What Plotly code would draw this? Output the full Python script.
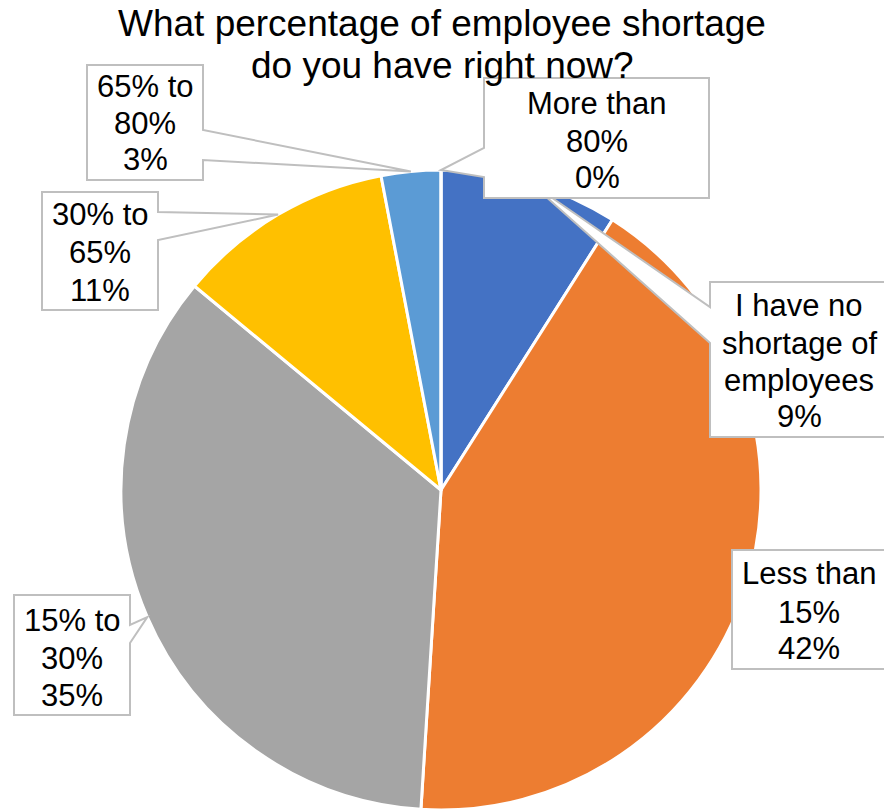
import math
import plotly.graph_objects as go

# Survey answers, in the order the slices run clockwise from 12 o'clock
categories = [
    "I have no shortage of employees",
    "Less than 15%",
    "15% to 30%",
    "30% to 65%",
    "65% to 80%",
    "More than 80%",
]
shares = [9, 42, 35, 11, 3, 0]
label_lines = [
    ["I have no", "shortage of", "employees"],
    ["Less than", "15%"],
    ["15% to", "30%"],
    ["30% to", "65%"],
    ["65% to", "80%"],
    ["More than", "80%"],
]
colors = ["#4472C4", "#ED7D31", "#A5A5A5", "#FFC000", "#5B9BD5", "#70AD47"]
title_lines = ["What percentage of employee shortage", "do you have right now?"]

W, H = 884, 812
CX, CY, R = 441, 490, 320  # pie centre and radius in pixels
FONT = "Arial, Liberation Sans, sans-serif"


def px(x):
    return x / W


def py(y):
    return 1 - y / H


# Callout boxes: (x0, y0, x1, y1), side the pointer leaves from, pointer base
callouts = [
    dict(box=(710, 282, 888, 437), side="left", base=(307, 343), cx=799, rows=(305, 343, 380, 417)),
    dict(box=(732, 550, 886, 669), side=None, base=None, cx=809, rows=(573, 612, 648)),
    dict(box=(14, 595, 130, 715), side="right", base=(625, 643), cx=72, rows=(620, 658, 695)),
    dict(box=(42, 192, 158, 310), side="right", base=(212, 240), cx=100, rows=(215, 253, 290)),
    dict(box=(87, 65, 203, 180), side="right", base=(130, 160), cx=145, rows=(87, 123, 160)),
    dict(box=(484, 78, 709, 198), side="left", base=(148, 177), cx=597, rows=(103, 141, 177)),
]

fig = go.Figure(
    go.Pie(
        labels=categories,
        values=shares,
        sort=False,
        direction="clockwise",
        rotation=0,
        marker=dict(colors=colors, line=dict(color="white", width=3)),
        textinfo="none",
        showlegend=False,
        domain=dict(x=[px(CX - R), px(CX + R)], y=[py(CY + R), py(CY - R)]),
    )
)

total = sum(shares)
shapes = []
annotations = []
cum = 0.0
for value, lines, call in zip(shares, label_lines, callouts):
    mid = (cum + value / 2) / total * 2 * math.pi
    cum += value
    tx = CX + R * math.sin(mid)
    ty = CY - R * math.cos(mid)

    x0, y0, x1, y1 = call["box"]
    pts = [(x0, y0), (x1, y0)]
    inside = x0 <= tx <= x1 and y0 <= ty <= y1
    if call["side"] == "right" and not inside:
        b1, b2 = call["base"]
        pts += [(x1, b1), (tx, ty), (x1, b2)]
    pts += [(x1, y1), (x0, y1)]
    if call["side"] == "left" and not inside:
        b1, b2 = call["base"]
        pts += [(x0, b2), (tx, ty), (x0, b1)]
    path = "M " + " L ".join(f"{px(a):.5f},{py(b):.5f}" for a, b in pts) + " Z"
    shapes.append(
        dict(
            type="path",
            path=path,
            xref="paper",
            yref="paper",
            fillcolor="white",
            line=dict(color="#BFBFBF", width=2),
            layer="above",
        )
    )

    text_rows = lines + [f"{value:g}%"]
    for row, yc in zip(text_rows, call["rows"]):
        annotations.append(
            dict(
                text=row,
                x=px(call["cx"]),
                y=py(yc),
                xref="paper",
                yref="paper",
                xanchor="center",
                yanchor="middle",
                showarrow=False,
                font=dict(family=FONT, size=31, color="black"),
            )
        )

for row, yc in zip(title_lines, (23, 66)):
    annotations.append(
        dict(
            text=row,
            x=px(442),
            y=py(yc),
            xref="paper",
            yref="paper",
            xanchor="center",
            yanchor="middle",
            showarrow=False,
            font=dict(family=FONT, size=37, color="black"),
        )
    )

fig.update_layout(
    width=W,
    height=H,
    margin=dict(l=0, r=0, t=0, b=0),
    paper_bgcolor="white",
    plot_bgcolor="white",
    shapes=shapes,
    annotations=annotations,
)

fig.write_html("out.html")
